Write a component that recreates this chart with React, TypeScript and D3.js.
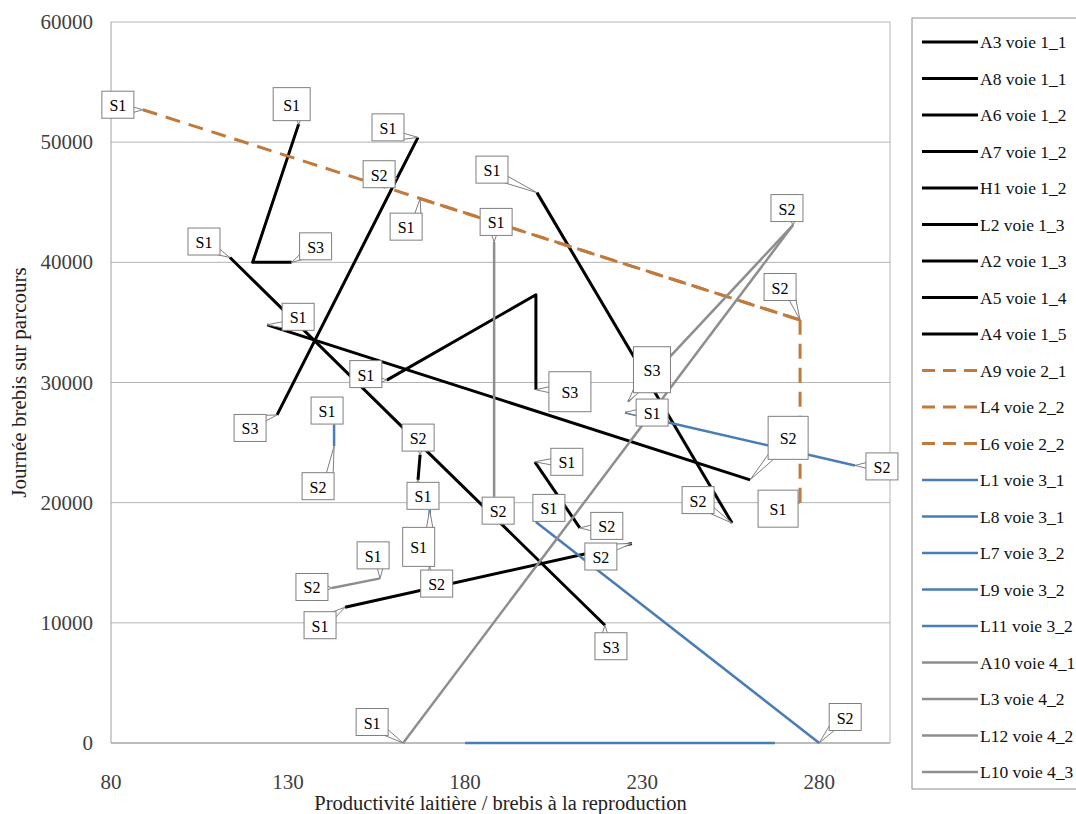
import React from "react";
import * as d3 from "d3";

// ---------- data ----------
const seriesNames: string[] = [
  "A3 voie 1_1", "A8 voie 1_1", "A6 voie 1_2", "A7 voie 1_2", "H1 voie 1_2",
  "L2 voie 1_3", "A2 voie 1_3", "A5 voie 1_4", "A4 voie 1_5",
  "A9 voie 2_1", "L4 voie 2_2", "L6 voie 2_2",
  "L1 voie 3_1", "L8 voie 3_1", "L7 voie 3_2", "L9 voie 3_2", "L11 voie 3_2",
  "A10 voie 4_1", "L3 voie 4_2", "L12 voie 4_2", "L10 voie 4_3",
];
const seriesVoie: number[] = [1, 1, 1, 1, 1, 1, 1, 1, 1, 2, 2, 2, 3, 3, 3, 3, 3, 4, 4, 4, 4];

const seriesX: number[][] = [
  [133, 120, 131],
  [113.6, 168.1, 219.5],
  [166.7, 160.8, 126.9],
  [124.1, 260.5],
  [157.9, 200, 200],
  [200.3, 255.4],
  [146.1, 227.1],
  [166.7, 167.3],
  [199.7, 212.4],
  [89, 274.6],
  [167.3, 274.6],
  [274.6, 274.6],
  [225.2, 290.1],
  [200, 280],
  [180, 267.5],
  [143, 143],
  [170, 170],
  [162.5, 272.6],
  [226, 272.6],
  [188.2, 188.2],
  [156, 142.4],
];
const seriesY: number[][] = [
  [51500, 40000, 40000],
  [40400, 24600, 9800],
  [50400, 47000, 27300],
  [34800, 21900],
  [30200, 37300, 29400],
  [45800, 18300],
  [11300, 16600],
  [21900, 24000],
  [23400, 17900],
  [52700, 35200],
  [45300, 35200],
  [20000, 35200],
  [27500, 23100],
  [18400, 0],
  [0, 0],
  [26500, 24700],
  [19400, 14600],
  [0, 43100],
  [28400, 43100],
  [41700, 20500],
  [13700, 12900],
];
const pointLabels: string[][] = [
  ["S1", "", "S3"],
  ["S1", "", "S3"],
  ["S1", "S2", "S3"],
  ["S1", "S2"],
  ["S1", "", "S3"],
  ["S1", "S2"],
  ["S1", "S2"],
  ["S1", "S2"],
  ["S1", "S2"],
  ["S1", "S2"],
  ["S1", ""],
  ["S1", ""],
  ["S1", "S2"],
  ["S1", "S2"],
  ["", ""],
  ["S1", "S2"],
  ["S1", "S2"],
  ["S1", "S2"],
  ["S3", ""],
  ["S1", "S2"],
  ["S1", "S2"],
];
const yTicks: number[] = [0, 10000, 20000, 30000, 40000, 50000, 60000];
const xTicks: number[] = [80, 130, 180, 230, 280];

// ---------- layout (label box offsets from their point: dx, dy, [w, h]) ----------
const labelLayout: (number[] | null)[][] = [
  [[-7, -20, 37, 33], null, [24, -16]],
  [[-26, -16], null, [6, 21]],
  [[-30, -10], [-18, -4], [-27, 13]],
  [[31, -8], [38, -42, 40, 43]],
  [[-21, -6], null, [34, 2, 42, 40]],
  [[-45, -23], [-34, -23]],
  [[-25, 18], [-31, 13]],
  [[5, 16], [-2, -17]],
  [[32, 0], [27, -2]],
  [[-25, -5], [-20, -33]],
  [[-14, 28], null],
  [[-22, 6, 40, 37], null],
  [[27, 0], [27, 1]],
  [[13, -14], [26, -26]],
  [null, null],
  [[-7, -14], [-16, 40]],
  [[-11, 37, 32, 39], [7, 16]],
  [[-31, -21], [-6, -17]],
  [[24, -32, 37, 46], null],
  [[2, -20], [4, 14]],
  [[-7, -23], [-20, -1]],
];

const voieStyle: Record<number, { color: string; width: number; dash?: string }> = {
  1: { color: "#000000", width: 3 },
  2: { color: "#c27a3c", width: 3, dash: "15,9" },
  3: { color: "#4a7db3", width: 2.5 },
  4: { color: "#8e8e8e", width: 2.5 },
};

const FONT = "Liberation Serif, DejaVu Serif, serif";

export default function App() {
  const W = 1076;
  const H = 814;
  const plot = { left: 111, top: 22, right: 890, bottom: 743 };
  const x = d3.scaleLinear().domain([80, 300]).range([plot.left, plot.right]);
  const y = d3.scaleLinear().domain([0, 60000]).range([plot.bottom, plot.top]);
  const line = d3
    .line<[number, number]>()
    .x((d) => x(d[0]))
    .y((d) => y(d[1]));

  const tStyle = { fontFamily: FONT };

  const labels: React.ReactNode[] = [];
  seriesNames.forEach((_, si) => {
    seriesX[si].forEach((xv, pi) => {
      const txt = pointLabels[si][pi];
      const lay = labelLayout[si][pi];
      if (!txt || !lay) return;
      const px = x(xv);
      const py = y(seriesY[si][pi]);
      const w = lay[2] ?? 32;
      const h = lay[3] ?? 27;
      const cx = px + lay[0];
      const cy = py + lay[1];
      const x0 = cx - w / 2, x1 = cx + w / 2, y0 = cy - h / 2, y1 = cy + h / 2;
      let wedge: React.ReactNode = null;
      const inside = px > x0 && px < x1 && py > y0 && py < y1;
      if (!inside) {
        const bx = Math.max(x0, Math.min(x1, px));
        const by = Math.max(y0, Math.min(y1, py));
        let dx = px - bx, dy = py - by;
        const len = Math.hypot(dx, dy) || 1;
        dx /= len; dy /= len;
        const ix = Math.max(x0 + 5, Math.min(x1 - 5, bx));
        const iy = Math.max(y0 + 5, Math.min(y1 - 5, by));
        const qx = -dy, qy = dx;
        const s = 4;
        const pts = [
          [ix + qx * s, iy + qy * s],
          [px, py],
          [ix - qx * s, iy - qy * s],
        ];
        wedge = (
          <polygon
            points={pts.map((p) => p.join(",")).join(" ")}
            fill="#ffffff"
            stroke="#7f7f7f"
            strokeWidth={1}
          />
        );
      }
      labels.push(
        <g key={`lab-${si}-${pi}`}>
          {wedge}
          <rect x={x0} y={y0} width={w} height={h} fill="#ffffff" stroke="#7f7f7f" strokeWidth={1} />
          <text
            x={cx}
            y={cy + 1}
            textAnchor="middle"
            dominantBaseline="central"
            fontSize={16}
            style={tStyle}
            fill="#000"
          >
            {txt}
          </text>
        </g>
      );
    });
  });

  const legendTop = 42;
  const legendStep = 36.5;

  return (
    <svg
      width={W}
      height={H}
      style={{ position: "absolute", left: 0, top: 0, background: "#fff", fontFamily: FONT }}
    >
      <rect x={0} y={0} width={W} height={H} fill="#fff" />
      {/* gridlines */}
      {yTicks.map((t) => (
        <line key={`g${t}`} x1={plot.left} x2={plot.right} y1={y(t)} y2={y(t)} stroke="#b4b4b4" strokeWidth={1} />
      ))}
      <line x1={plot.left} x2={plot.left} y1={plot.top} y2={plot.bottom} stroke="#a0a0a0" strokeWidth={1} />
      <line x1={plot.right} x2={plot.right} y1={plot.top} y2={plot.bottom} stroke="#b4b4b4" strokeWidth={1} />
      <line x1={plot.left} x2={plot.right} y1={plot.bottom} y2={plot.bottom} stroke="#a0a0a0" strokeWidth={1} />

      {/* tick labels */}
      {yTicks.map((t) => (
        <text key={`yt${t}`} x={93} y={y(t)} textAnchor="end" dominantBaseline="central" fontSize={21} style={tStyle} fill="#404040">
          {t}
        </text>
      ))}
      {xTicks.map((t) => (
        <text key={`xt${t}`} x={x(t)} y={789} textAnchor="middle" fontSize={21} style={tStyle} fill="#404040">
          {t}
        </text>
      ))}

      {/* axis titles */}
      <text x={(plot.left + plot.right) / 2} y={810} textAnchor="middle" fontSize={20.5} style={tStyle} fill="#222">
        Productivité laitière / brebis à la reproduction
      </text>
      <text
        transform={`translate(26, ${(plot.top + plot.bottom) / 2}) rotate(-90)`}
        textAnchor="middle"
        fontSize={21}
        style={tStyle}
        fill="#222"
      >
        Journée brebis sur parcours
      </text>

      {/* series */}
      {seriesNames.map((name, si) => {
        const st = voieStyle[seriesVoie[si]];
        const pts: [number, number][] = seriesX[si].map((v, i) => [v, seriesY[si][i]]);
        return (
          <path
            key={name}
            d={line(pts) || ""}
            fill="none"
            stroke={st.color}
            strokeWidth={st.width}
            strokeDasharray={st.dash}
            strokeLinejoin="round"
          />
        );
      })}

      {/* data labels */}
      {labels}

      {/* legend */}
      <rect x={912} y={18} width={200} height={771} fill="#fff" stroke="#8c8c8c" strokeWidth={1} />
      {seriesNames.map((name, si) => {
        const st = voieStyle[seriesVoie[si]];
        const ly = legendTop + si * legendStep;
        return (
          <g key={`lg${si}`}>
            <line x1={922} x2={978} y1={ly} y2={ly} stroke={st.color} strokeWidth={st.width} strokeDasharray={st.dash ? "13,8" : undefined} />
            <text x={980} y={ly} dominantBaseline="central" fontSize={17.5} style={tStyle} fill="#111">
              {name}
            </text>
          </g>
        );
      })}
    </svg>
  );
}
